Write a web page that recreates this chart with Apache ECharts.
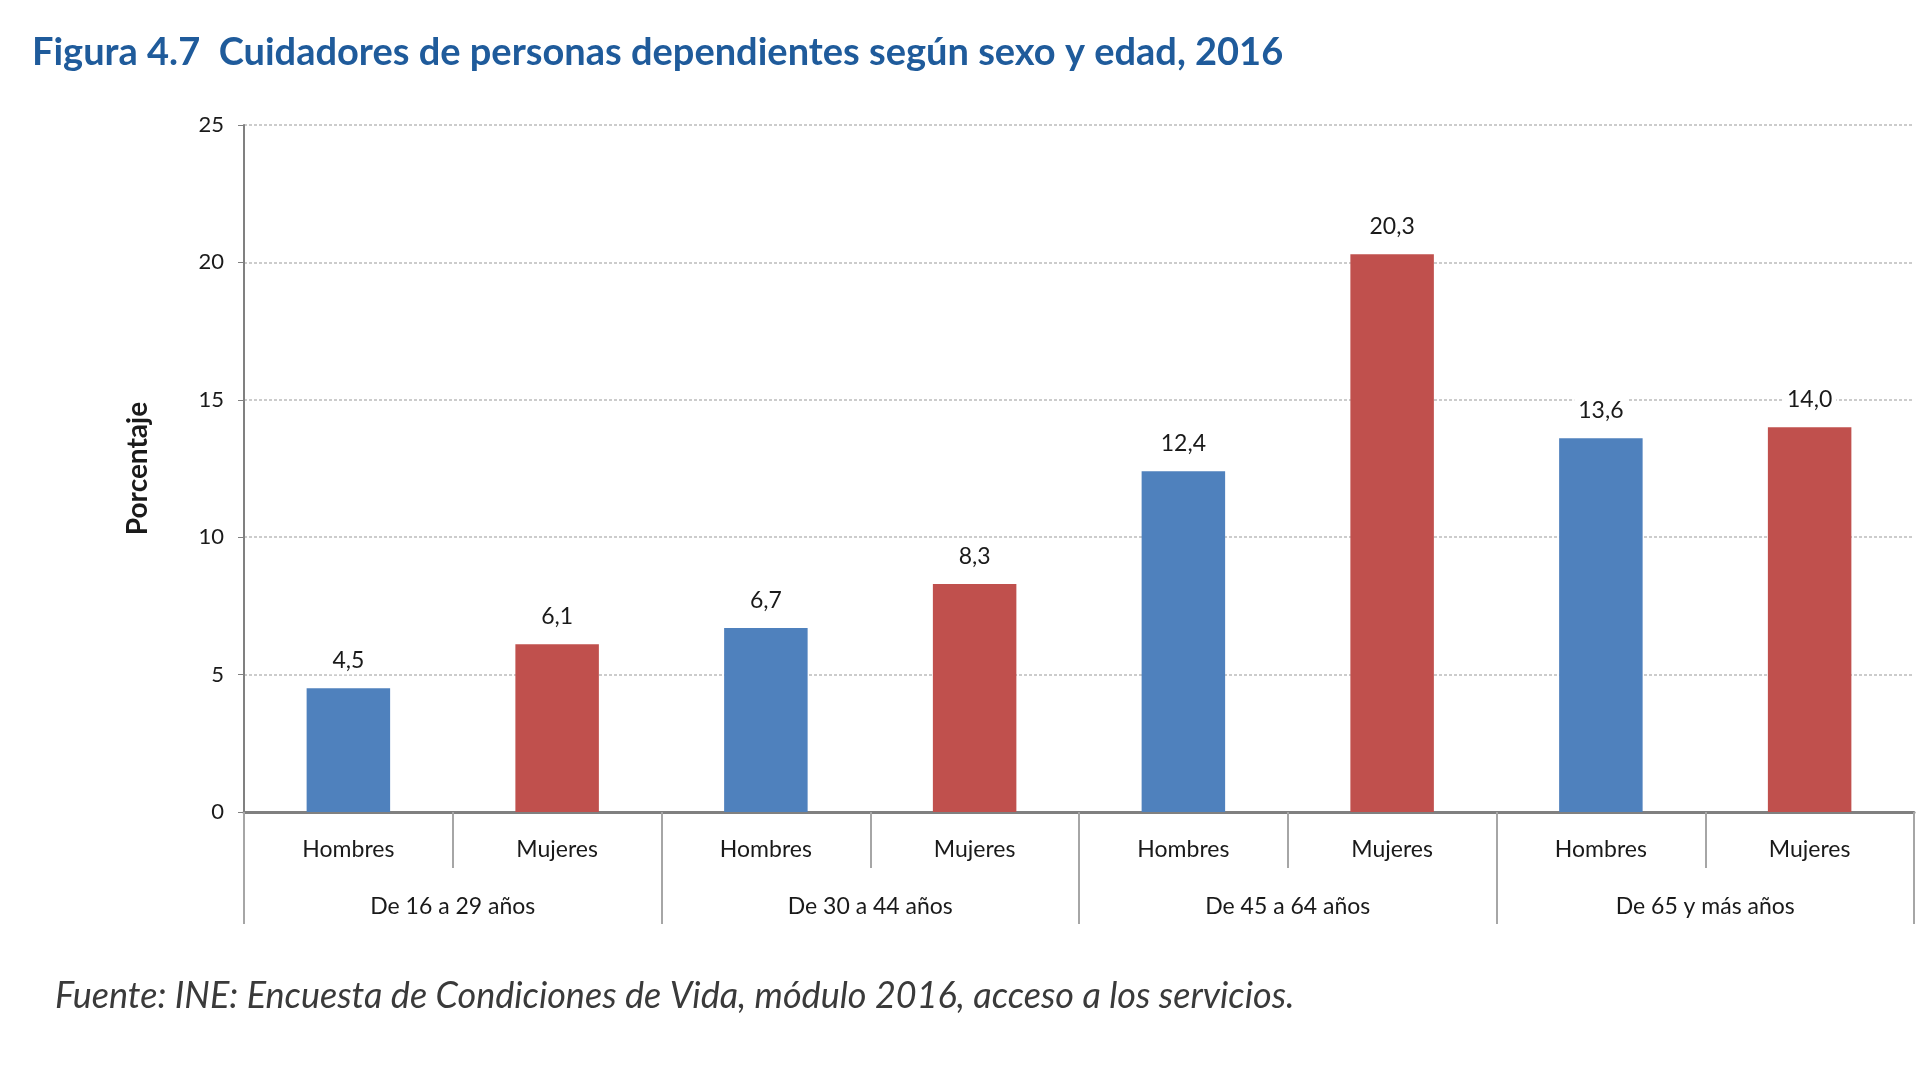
<!DOCTYPE html>
<html>
<head>
<meta charset="utf-8">
<script src="https://cdn.jsdelivr.net/npm/echarts@6/dist/echarts.min.js"></script>
<style>
html,body{margin:0;padding:0;background:#fff;}
#chart{width:1920px;height:1080px;}
</style>
</head>
<body>
<div id="chart"></div>
<script>
const titleText = 'Figura 4.7  Cuidadores de personas dependientes según sexo y edad, 2016';
const sourceText = 'Fuente: INE: Encuesta de Condiciones de Vida, módulo 2016, acceso a los servicios.';
const groups = ['De 16 a 29 años', 'De 30 a 44 años', 'De 45 a 64 años', 'De 65 y más años'];
const sexes = ['Hombres', 'Mujeres'];
const hombres = [4.5, 6.7, 12.4, 13.6];
const mujeres = [6.1, 8.3, 20.3, 14.0];
const yTicks = [0, 5, 10, 15, 20, 25];

const FONT = 'Lato, "Open Sans", sans-serif';
const subCats = [];
groups.forEach(() => sexes.forEach(s => subCats.push(s)));
const hData = [], mData = [];
groups.forEach((g, i) => { hData.push(hombres[i], null); mData.push(null, mujeres[i]); });

const chart = echarts.init(document.getElementById('chart'));
const labelCfg = {
  show: true, position: 'top', distance: 14,
  fontFamily: FONT, fontSize: 23, color: '#1a1a1a',
  backgroundColor: '#fff', padding: [2, 4],
  formatter: p => p.value == null ? '' : p.value.toFixed(1).replace('.', ',')
};
chart.setOption({
  backgroundColor: '#fff',
  animation: false,
  title: [
    { text: titleText, left: 27, top: 29,
      textStyle: { fontFamily: FONT, fontSize: 38, fontWeight: 'bold', color: '#1F5B9B' } },
    { text: sourceText, left: 50, top: 973,
      textStyle: { fontFamily: FONT, fontSize: 36, fontStyle: 'italic', fontWeight: 'normal', color: '#3a3a3a' } }
  ],
  grid: { left: 244, right: 6, top: 125, bottom: 268, containLabel: false },
  xAxis: [
    { type: 'category', data: subCats, position: 'bottom',
      axisLine: { show: true, lineStyle: { color: '#808080', width: 3 } },
      axisTick: { show: true, interval: 0, length: 56, lineStyle: { color: '#a6a6a6', width: 2 } },
      axisLabel: { interval: 0, margin: 26, fontFamily: FONT, fontSize: 23, color: '#1a1a1a' } },
    { type: 'category', data: groups, position: 'bottom', gridIndex: 0,
      axisLine: { show: false },
      axisTick: { show: true, interval: 0, length: 112, lineStyle: { color: '#a6a6a6', width: 2 } },
      axisLabel: { interval: 0, margin: 83, fontFamily: FONT, fontSize: 23, color: '#1a1a1a' } }
  ],
  yAxis: {
    type: 'value', min: 0, max: 25, interval: 5,
    name: 'Porcentaje', nameLocation: 'middle', nameGap: 92, nameRotate: 90,
    nameTextStyle: { fontFamily: FONT, fontSize: 28, fontWeight: 'bold', color: '#1a1a1a' },
    axisLine: { show: true, lineStyle: { color: '#808080', width: 2 } },
    axisTick: { show: true, length: 6, lineStyle: { color: '#808080' } },
    axisLabel: { margin: 20, fontFamily: FONT, fontSize: 22, color: '#1a1a1a',
      formatter: v => yTicks.includes(v) ? String(v) : '' },
    splitLine: { show: true, lineStyle: { color: '#cccccc', type: [3, 2], width: 2 } }
  },
  series: [
    { name: 'Hombres', type: 'bar', xAxisIndex: 0, data: hData, barWidth: '40%', barGap: '-100%',
      itemStyle: { color: '#4F81BD' }, label: labelCfg },
    { name: 'Mujeres', type: 'bar', xAxisIndex: 0, data: mData, barWidth: '40%', barGap: '-100%',
      itemStyle: { color: '#C0504D' }, label: labelCfg }
  ]
});
</script>
</body>
</html>
